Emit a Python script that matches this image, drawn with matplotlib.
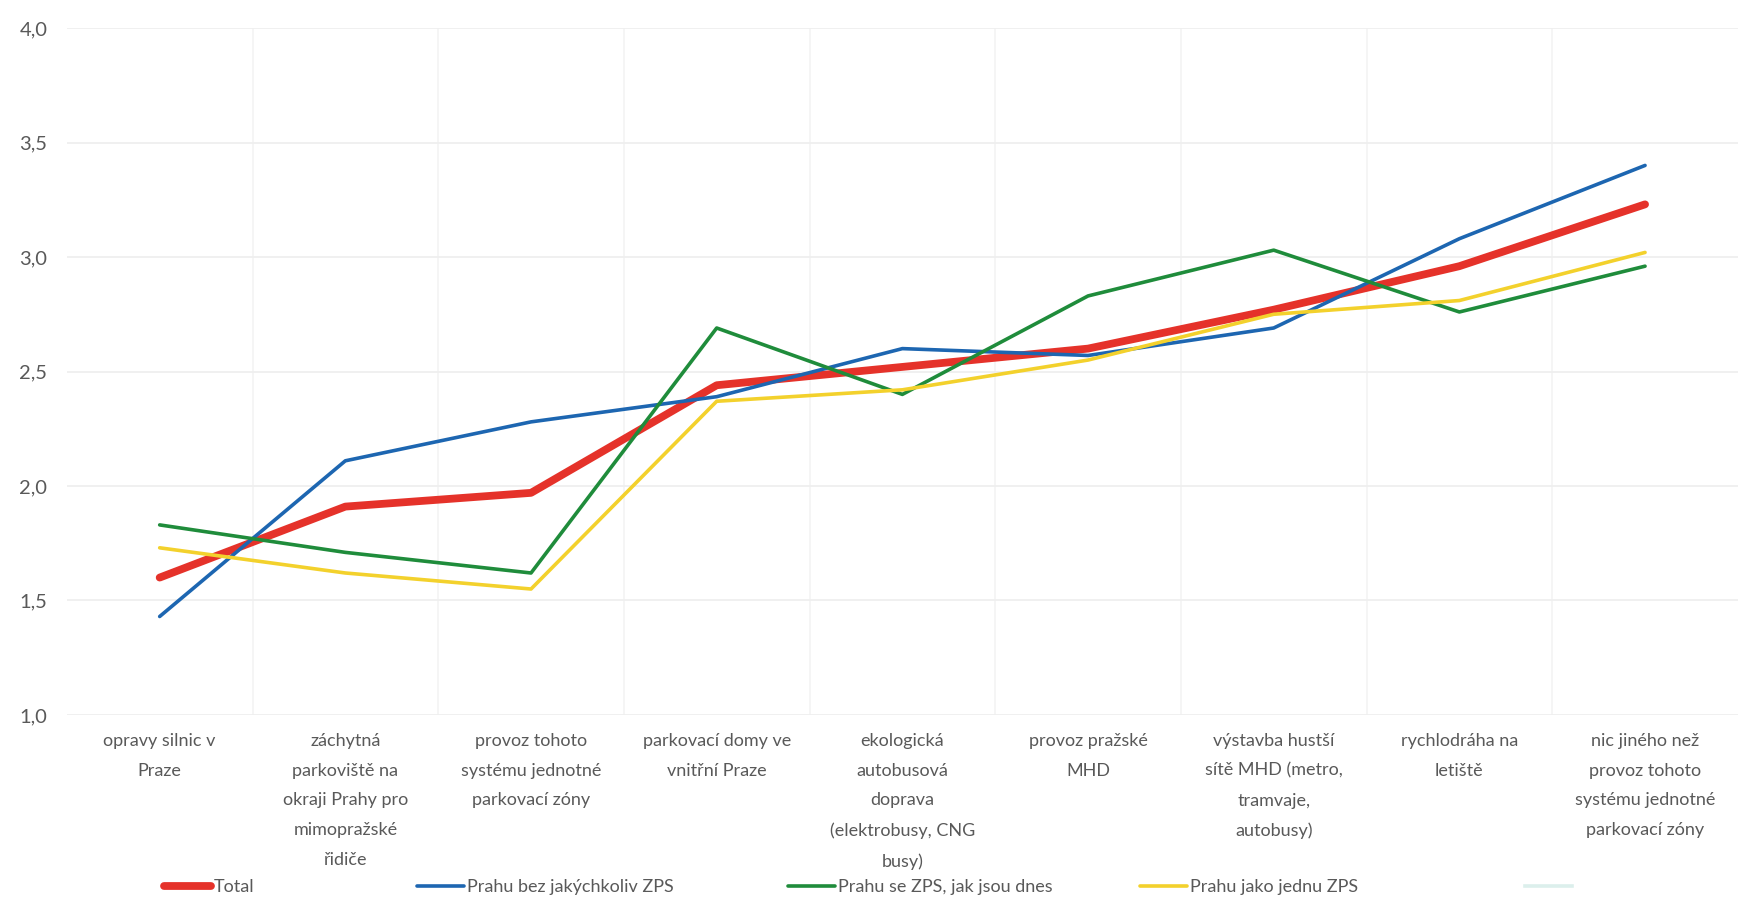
import matplotlib
matplotlib.use("Agg")
import matplotlib.pyplot as plt
from matplotlib.lines import Line2D
from matplotlib.ticker import FuncFormatter, MultipleLocator

plt.rcParams["font.family"] = ["Lato", "DejaVu Sans"]

# data
categories = [
    "opravy silnic v\nPraze",
    "záchytná\nparkoviště na\nokraji Prahy pro\nmimopražské\nřidiče",
    "provoz tohoto\nsystému jednotné\nparkovací zóny",
    "parkovací domy ve\nvnitřní Praze",
    "ekologická\nautobusová\ndoprava\n(elektrobusy, CNG\nbusy)",
    "provoz pražské\nMHD",
    "výstavba hustší\nsítě MHD (metro,\ntramvaje,\nautobusy)",
    "rychlodráha na\nletiště",
    "nic jiného než\nprovoz tohoto\nsystému jednotné\nparkovací zóny",
]
total = [1.60, 1.91, 1.97, 2.44, 2.52, 2.60, 2.77, 2.96, 3.23]
bez_zps = [1.43, 2.11, 2.28, 2.39, 2.60, 2.57, 2.69, 3.08, 3.40]
zps_dnes = [1.83, 1.71, 1.62, 2.69, 2.40, 2.83, 3.03, 2.76, 2.96]
jedna_zps = [1.73, 1.62, 1.55, 2.37, 2.42, 2.55, 2.75, 2.81, 3.02]
series_names = ["Total", "Prahu bez jakýchkoliv ZPS", "Prahu se ZPS, jak jsou dnes", "Prahu jako jednu ZPS"]

colors = ["#e5322a", "#1d66b1", "#1f8c3b", "#f3d12c"]
widths = [5.6, 2.6, 2.6, 2.6]
text_color = "#595959"

fig = plt.figure(figsize=(17.59, 9.05), dpi=100)
ax = fig.add_axes([0.038, 0.21, 0.95, 0.759])

x = list(range(len(categories)))
lines = []
for vals, c, w, name in zip([total, bez_zps, zps_dnes, jedna_zps], colors, widths, series_names):
    ln, = ax.plot(x, vals, color=c, lw=w, solid_capstyle="round", solid_joinstyle="round", label=name)
    lines.append(ln)
# thin lines sit on top of the red one, as in the original
lines[0].set_zorder(2)
for ln in lines[1:]:
    ln.set_zorder(3)

ax.set_xlim(-0.5, len(categories) - 0.5)
ax.set_ylim(1.0, 4.0)
ax.yaxis.set_major_locator(MultipleLocator(0.5))
ax.yaxis.set_major_formatter(FuncFormatter(lambda v, p: f"{v:.1f}".replace(".", ",")))
ax.set_xticks(x)
ax.set_xticklabels(categories, fontsize=13, color=text_color, linespacing=2.05, va="top")
ax.tick_params(axis="x", length=0, pad=13)
ax.tick_params(axis="y", length=0, pad=14, labelsize=14.5, labelcolor=text_color)

# faint grid: horizontal at ticks, vertical between categories
ax.set_xticks([i + 0.5 for i in x[:-1]], minor=True)
ax.tick_params(axis="x", which="minor", length=0)
ax.grid(True, axis="y", which="major", color="#eeeeee", lw=1.2)
ax.grid(True, axis="x", which="minor", color="#f3f3f3", lw=1.2)
ax.set_axisbelow(True)
for s in ax.spines.values():
    s.set_visible(False)

# legend entries in equal slots along the bottom
legend_handles = lines + [Line2D([], [], color="#dcefec", lw=2.6)]
legend_labels = series_names + [""]
slot_x = [0.088, 0.232, 0.443, 0.643, 0.862]
for h, lab, sx in zip(legend_handles, legend_labels, slot_x):
    fig.legend(handles=[h], labels=[lab], loc="center left", bbox_to_anchor=(sx, 0.02),
               frameon=False, handlelength=2.6, handletextpad=0.15, borderpad=0,
               prop={"size": 13}, labelcolor=text_color)

fig.savefig("out.png", dpi=100, facecolor="white")
